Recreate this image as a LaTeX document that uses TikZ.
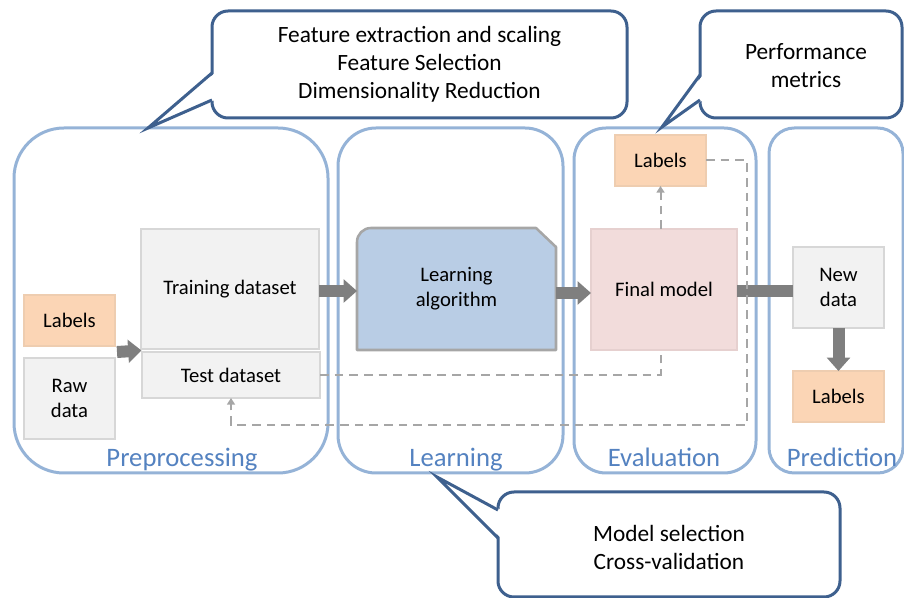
\documentclass[tikz,border=0pt]{standalone}
\usepackage{fontspec}
\setmainfont{Carlito}
\usetikzlibrary{arrows.meta,calc}

\definecolor{panelblue}{RGB}{149,179,215}
\definecolor{stageblue}{RGB}{84,130,192}
\definecolor{calloutblue}{RGB}{62,96,142}
\definecolor{orangefill}{RGB}{251,213,181}
\definecolor{orangeline}{RGB}{238,205,176}
\definecolor{grayfill}{RGB}{242,242,242}
\definecolor{grayline}{RGB}{215,215,215}
\definecolor{pinkfill}{RGB}{242,220,219}
\definecolor{pinkline}{RGB}{230,208,207}
\definecolor{algofill}{RGB}{185,205,229}
\definecolor{algoline}{RGB}{166,166,166}
\definecolor{arrowgray}{RGB}{127,127,127}
\definecolor{dashgray}{RGB}{166,166,166}

\begin{document}
\begin{tikzpicture}[x=0.75pt,y=-0.75pt,
  panel/.style={draw=panelblue, line width=2.25pt, inner sep=0pt, outer sep=0pt},
  stagelabel/.style={anchor=base, text=stageblue, font=\fontsize{20}{24}\selectfont, inner sep=0pt},
  boxtext/.style={font=\fontsize{15.5}{19}\selectfont, align=center, inner sep=0pt, outer sep=0pt, line width=1.1pt},
  orangebox/.style={boxtext, fill=orangefill, draw=orangeline},
  graybox/.style={boxtext, fill=grayfill, draw=grayline},
  pinkbox/.style={boxtext, fill=pinkfill, draw=pinkline},
  callout/.style={draw=calloutblue, fill=white, line width=2.25pt, rounded corners=12pt, inner sep=0pt, outer sep=0pt},
  callouttext/.style={font=\fontsize{17.5}{21}\selectfont, align=center, inner sep=0pt},
  pointer/.style={draw=calloutblue, line width=2.25pt, line join=miter},
  blockarrow/.style={draw=arrowgray, line width=9pt, -{Triangle[width=17pt,length=10pt]}},
  blockbar/.style={draw=arrowgray, line width=9pt},
  dashline/.style={draw=dashgray, line width=1.5pt, dash pattern=on 6.5pt off 4.5pt},
  dasharrow/.style={dashline, -{Triangle[width=6pt,length=5pt]}}
]
\useasboundingbox (0,0) rectangle (904,598);

% stage panels
\node[panel, minimum width=235.5pt, minimum height=258.75pt, rounded corners=37.5pt] (prep) at (171,300.5) {};
\node[panel, minimum width=168.75pt, minimum height=258.75pt, rounded corners=28.5pt] (learn) at (450.5,300.5) {};
\node[panel, minimum width=136.5pt, minimum height=258.75pt, rounded corners=24pt] (eval) at (665,300.5) {};
\node[panel, minimum width=100.5pt, minimum height=258.75pt, rounded corners=19pt] (pred) at (836,300.5) {};

\node[stagelabel] (preplbl) at (182,466.5) {Preprocessing};
\node[stagelabel] (learnlbl) at (456,466.5) {Learning};
\node[stagelabel] (evallbl) at (664,466.5) {Evaluation};
\node[stagelabel] (predlbl) at (842,466.5) {Prediction};

% preprocessing boxes
\node[orangebox, minimum width=68.25pt, minimum height=38.25pt] (lab1) at (69.5,320.5) {Labels};
\node[graybox, minimum width=68.25pt, minimum height=60.75pt] (raw) at (69.5,398.5) {Raw\\data};
\node[graybox, minimum width=133.5pt, minimum height=90pt] (train) at (230,289) {Training dataset};
\node[graybox, minimum width=133.5pt, minimum height=34.5pt] (test) at (231,375) {Test dataset};

% learning algorithm: rounded top-left corner, cut top-right corner
\coordinate (algoNW) at (357,228);
\coordinate (algoSE) at (556,350);
\draw[fill=algofill, draw=algoline, line width=1.9pt, line join=round]
  (algoNW |- algoSE) -- ($(algoNW)+(0,14)$)
  arc[start angle=180, end angle=270, radius=14]
  -- ($(algoSE |- algoNW)+(-20,0)$) -- ($(algoSE |- algoNW)+(0,19)$)
  -- (algoSE) -- cycle;
\node[boxtext, minimum width=149.25pt, minimum height=91.5pt] (algo) at ($(algoNW)!.5!(algoSE)$) {Learning\\algorithm};

% evaluation and prediction boxes
\node[pinkbox, minimum width=109.5pt, minimum height=90.75pt] (final) at (664,289.5) {Final model};
\node[orangebox, minimum width=68.25pt, minimum height=38.25pt] (lab2) at (660.5,160.5) {Labels};
\node[graybox, minimum width=68.25pt, minimum height=60.75pt] (newd) at (838.5,287.5) {New\\data};
\node[orangebox, minimum width=68.25pt, minimum height=38.25pt] (lab3) at (838.5,396.5) {Labels};

% main flow arrows
\draw[blockarrow] ($(lab1.south east)!.5!(raw.north east)+(2,0)$) -- ($(train.south west)!.5!(test.north west)$);
\draw[blockarrow] ([yshift=-1.5pt]train.east) -- ([yshift=-1.5pt]train.east -| algo.west);
\draw[blockarrow] ([yshift=-3pt]algo.east) -- ([yshift=-3pt]algo.east -| final.west);
\draw[blockbar] ([yshift=-1.5pt]final.east) -- ([yshift=-1.5pt]final.east -| newd.west);
\draw[blockarrow] (newd.south) -- (lab3.north);

% dashed evaluation loops
\coordinate (loopcorner) at (747,425);
\draw[dashline] (test.east) -| (lab2.south |- final.south);
\draw[dasharrow] (lab2.south |- final.north) -- (lab2.south);
\draw[dasharrow] (lab2.east) -| (loopcorner) -| (test.south);

% callouts
\node[callout, minimum width=311.25pt, minimum height=80.25pt] (c1) at (419.5,64.5) {};
\coordinate (c1a) at (212,73);
\coordinate (c1b) at (212,100);
\coordinate (c1tip) at (148,128);
\fill[white] ($(c1a)+(3,0)$) -- (c1tip) -- ($(c1b)+(3,0)$) -- cycle;
\draw[pointer] (c1a) -- (c1tip) -- (c1b);
\node[callouttext] (c1t) at (c1) {Feature extraction and scaling\\Feature Selection\\Dimensionality Reduction};

\node[callout, minimum width=151.5pt, minimum height=80.25pt] (c2) at (801,64.5) {};
\coordinate (c2a) at (700,75);
\coordinate (c2b) at (700,100);
\coordinate (c2tip) at (662,127);
\fill[white] ($(c2a)+(3,0)$) -- (c2tip) -- ($(c2b)+(3,0)$) -- cycle;
\draw[pointer] (c2a) -- (c2tip) -- (c2b);
\node[callouttext] (c2t) at (806,66) {Performance\\metrics};

\node[callout, minimum width=256.5pt, minimum height=78.75pt] (c3) at (669,544.5) {};
\coordinate (c3a) at (498,510);
\coordinate (c3b) at (498,538);
\coordinate (c3tip) at (437,477);
\fill[white] ($(c3a)+(3,0)$) -- (c3tip) -- ($(c3b)+(3,0)$) -- cycle;
\draw[pointer] (c3a) -- (c3tip) -- (c3b);
\node[callouttext] (c3t) at (669,547) {Model selection\\Cross-validation};
\end{tikzpicture}
\end{document}
